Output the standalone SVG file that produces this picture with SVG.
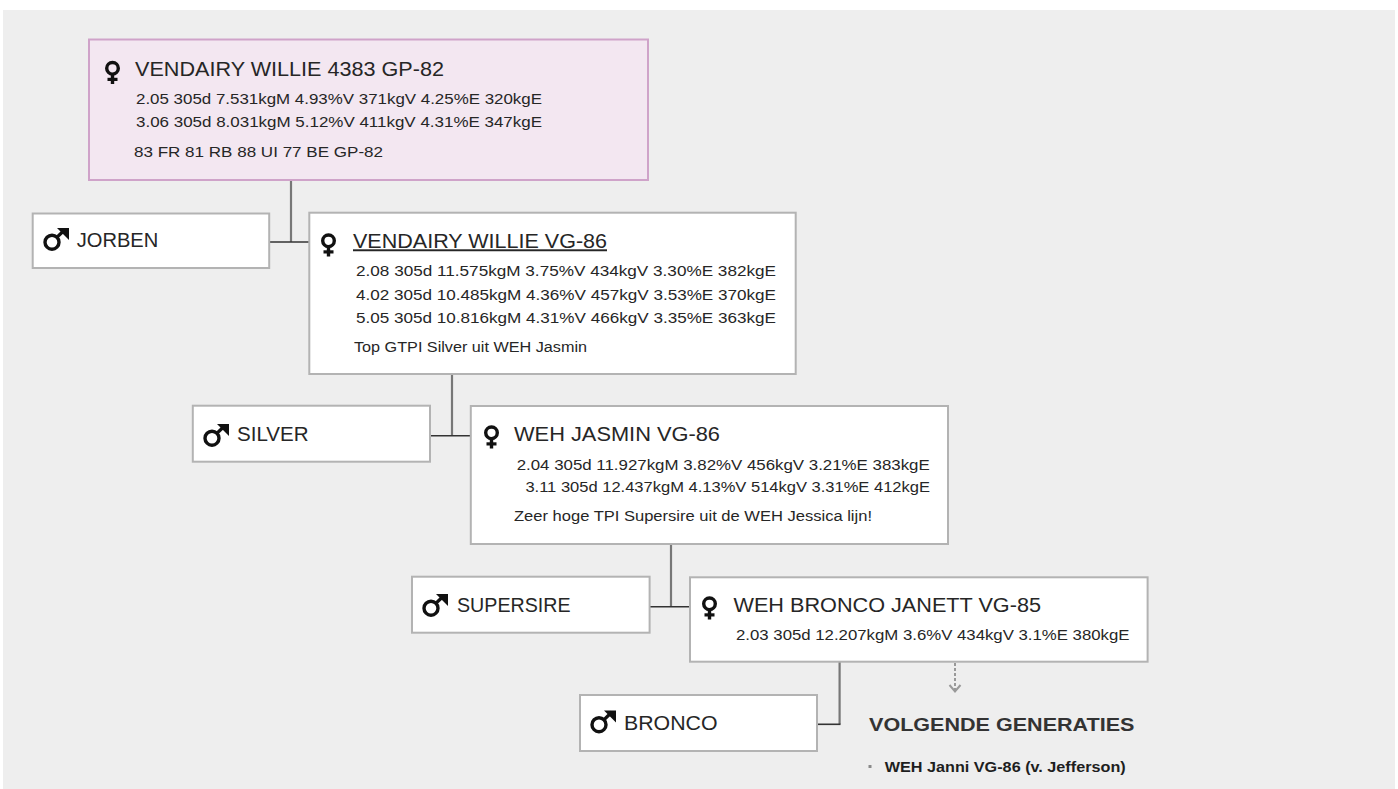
<svg xmlns="http://www.w3.org/2000/svg" xmlns:xlink="http://www.w3.org/1999/xlink" width="1398" height="789" viewBox="0 0 1398 789">
<style>
.bg{fill:#eeeeee}
.box{fill:#ffffff;stroke:#b3b3b3;stroke-width:2}
.top{fill:#f3e7f1;stroke:#cfa3c9;stroke-width:2}
text{font-family:"Liberation Sans",Arial,sans-serif;fill:#262626}
.t{font-size:19.5px}
.d{font-size:14px}
.h{font-size:19px;font-weight:bold;fill:#333333}
.li{font-size:15.5px;font-weight:bold;fill:#1e1e1e}
.v{stroke:#777777;stroke-width:2.2;fill:none}
.hz{stroke:#333333;stroke-width:1.6;fill:none}
.ico{fill:none;stroke:#111111;stroke-width:3.4}
.icf{fill:#111111}
</style>
<defs>
<symbol id="venus" viewBox="0 0 15 23" overflow="visible">
<circle class="ico" cx="7.5" cy="7.3" r="5.8"/>
<rect class="icf" x="5.8" y="12.5" width="3.4" height="10.5"/>
<rect class="icf" x="2.5" y="16.8" width="10" height="3.2"/>
</symbol>
<symbol id="mars" viewBox="0 0 26 23" overflow="visible">
<circle class="ico" cx="9" cy="14.2" r="7"/>
<line class="ico" x1="13.8" y1="9.4" x2="22" y2="1.5"/>
<polygon class="icf" points="14,0 26,0 26,12"/>
</symbol>
</defs>
<rect class="bg" x="3" y="10" width="1392" height="779"/>

<g id="connectors">
<line class="v" x1="291" y1="180" x2="291" y2="242"/>
<line class="hz" x1="269" y1="242" x2="309" y2="242"/>
<line class="v" x1="452" y1="374" x2="452" y2="435.7"/>
<line class="hz" x1="430" y1="435.7" x2="471" y2="435.7"/>
<line class="v" x1="671" y1="544" x2="671" y2="606.7"/>
<line class="hz" x1="649.6" y1="606.7" x2="690" y2="606.7"/>
<line class="v" x1="839.6" y1="661.7" x2="839.6" y2="724.3"/>
<line class="hz" x1="817" y1="724.3" x2="840.5" y2="724.3"/>
<line x1="955" y1="663" x2="955" y2="690" stroke="#999999" stroke-width="2" stroke-dasharray="3,2"/>
<polyline points="949.5,685 955,691.5 960.5,685" fill="none" stroke="#999999" stroke-width="2"/>
</g>

<g id="node-vendairy-willie-4383">
<rect class="top" x="89" y="39.5" width="559" height="140.5"/>
<use xlink:href="#venus" x="105" y="61" width="15" height="23"/>
<text class="t" x="135" y="76" textLength="309" lengthAdjust="spacingAndGlyphs">VENDAIRY WILLIE 4383 GP-82</text>
<text class="d" x="136" y="104" textLength="406" lengthAdjust="spacingAndGlyphs">2.05 305d 7.531kgM 4.93%V 371kgV 4.25%E 320kgE</text>
<text class="d" x="136" y="127.3" textLength="406" lengthAdjust="spacingAndGlyphs">3.06 305d 8.031kgM 5.12%V 411kgV 4.31%E 347kgE</text>
<text class="d" x="134" y="156.7" textLength="249" lengthAdjust="spacingAndGlyphs">83 FR 81 RB 88 UI 77 BE GP-82</text>
</g>

<g id="node-jorben">
<rect class="box" x="32.7" y="213.5" width="236.5" height="54.5"/>
<use xlink:href="#mars" x="43" y="228" width="26" height="23"/>
<text class="t" x="76.7" y="247.3" textLength="81.6" lengthAdjust="spacingAndGlyphs">JORBEN</text>
</g>

<g id="node-vendairy-willie-vg86">
<rect class="box" x="309.3" y="212.7" width="486.4" height="161.3"/>
<use xlink:href="#venus" x="321" y="233.5" width="15" height="23"/>
<text class="t" x="353" y="248.3" textLength="254" lengthAdjust="spacingAndGlyphs" text-decoration="underline">VENDAIRY WILLIE VG-86</text>
<text class="d" x="356" y="276" textLength="420" lengthAdjust="spacingAndGlyphs">2.08 305d 11.575kgM 3.75%V 434kgV 3.30%E 382kgE</text>
<text class="d" x="356" y="299.7" textLength="420" lengthAdjust="spacingAndGlyphs">4.02 305d 10.485kgM 4.36%V 457kgV 3.53%E 370kgE</text>
<text class="d" x="356" y="323.3" textLength="420" lengthAdjust="spacingAndGlyphs">5.05 305d 10.816kgM 4.31%V 466kgV 3.35%E 363kgE</text>
<text class="d" x="354" y="351.7" textLength="233" lengthAdjust="spacingAndGlyphs">Top GTPI Silver uit WEH Jasmin</text>
</g>

<g id="node-silver">
<rect class="box" x="192.8" y="405.7" width="237.2" height="56"/>
<use xlink:href="#mars" x="203" y="424" width="26" height="23"/>
<text class="t" x="237" y="441" textLength="71.6" lengthAdjust="spacingAndGlyphs">SILVER</text>
</g>

<g id="node-weh-jasmin">
<rect class="box" x="470.8" y="406" width="477.2" height="138"/>
<use xlink:href="#venus" x="484" y="425.5" width="15" height="23"/>
<text class="t" x="514" y="441" textLength="206" lengthAdjust="spacingAndGlyphs">WEH JASMIN VG-86</text>
<text class="d" x="516.7" y="470" textLength="413" lengthAdjust="spacingAndGlyphs">2.04 305d 11.927kgM 3.82%V 456kgV 3.21%E 383kgE</text>
<text class="d" x="525.4" y="491.7" textLength="404.6" lengthAdjust="spacingAndGlyphs">3.11 305d 12.437kgM 4.13%V 514kgV 3.31%E 412kgE</text>
<text class="d" x="514" y="521" textLength="358" lengthAdjust="spacingAndGlyphs">Zeer hoge TPI Supersire uit de WEH Jessica lijn!</text>
</g>

<g id="node-supersire">
<rect class="box" x="412" y="576.7" width="237.6" height="56"/>
<use xlink:href="#mars" x="422" y="594" width="26" height="23"/>
<text class="t" x="457" y="612.3" textLength="113.6" lengthAdjust="spacingAndGlyphs">SUPERSIRE</text>
</g>

<g id="node-weh-bronco-janett">
<rect class="box" x="690" y="577.3" width="457.6" height="84.4"/>
<use xlink:href="#venus" x="702" y="596.5" width="15" height="23"/>
<text class="t" x="733.5" y="612.3" textLength="307.5" lengthAdjust="spacingAndGlyphs">WEH BRONCO JANETT VG-85</text>
<text class="d" x="736" y="640" textLength="393.5" lengthAdjust="spacingAndGlyphs">2.03 305d 12.207kgM 3.6%V 434kgV 3.1%E 380kgE</text>
</g>

<g id="node-bronco">
<rect class="box" x="580" y="695" width="237" height="56"/>
<use xlink:href="#mars" x="590" y="710.5" width="26" height="23"/>
<text class="t" x="624" y="730" textLength="93.5" lengthAdjust="spacingAndGlyphs">BRONCO</text>
</g>

<g id="volgende-generaties">
<text class="h" x="869" y="730.7" textLength="265.5" lengthAdjust="spacingAndGlyphs">VOLGENDE GENERATIES</text>
<rect x="868.5" y="765" width="3" height="3" fill="#8a8a8a"/>
<text class="li" x="884.7" y="771.7" textLength="241" lengthAdjust="spacingAndGlyphs">WEH Janni VG-86 (v. Jefferson)</text>
</g>
</svg>
